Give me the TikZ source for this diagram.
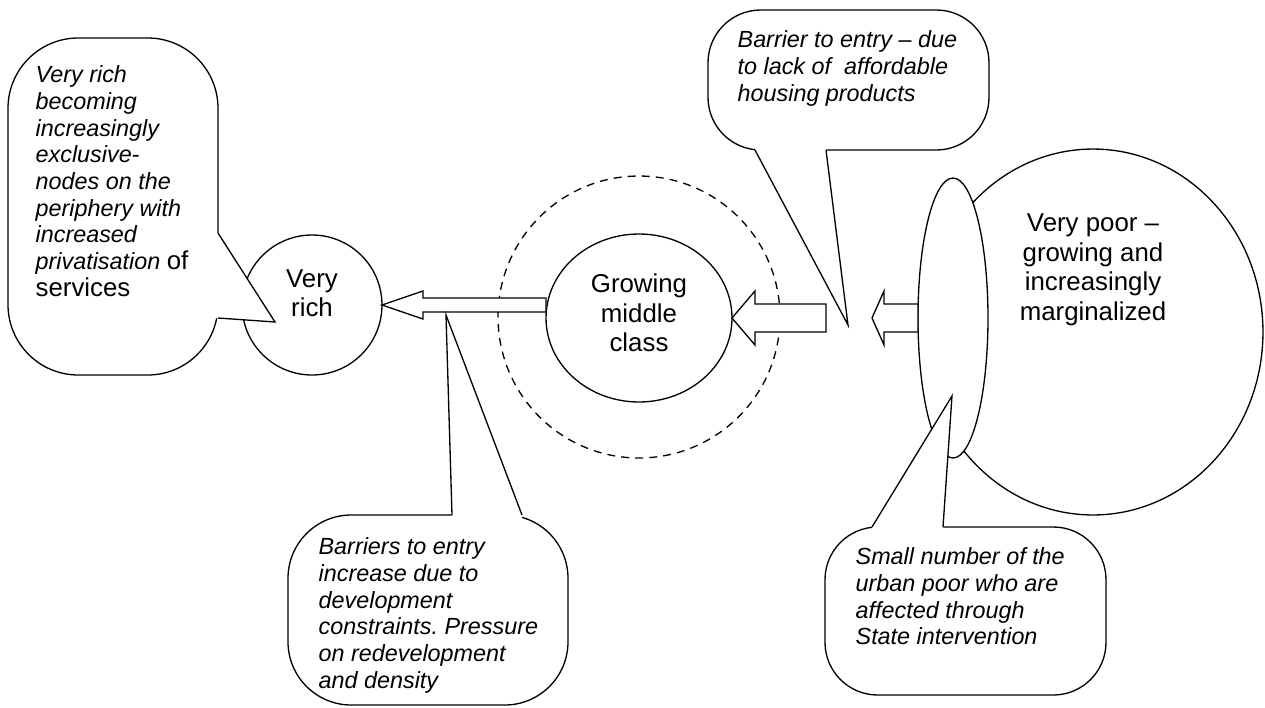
\documentclass[tikz,border=0pt]{standalone}
\usepackage{fontspec}
\setmainfont{Liberation Sans}
\usepackage{tikz}
\usetikzlibrary{calc,shapes.geometric}
\frenchspacing

\begin{document}
\begin{tikzpicture}[x=0.02cm, y=-0.02cm, line width=0.75pt,
	blob/.style={draw, fill=white, inner sep=0pt, outer sep=0pt},
	hollow/.style={draw, fill=white},
	bubble/.style={draw, fill=white},
	notetext/.style={anchor=north west, inner sep=0pt, align=left, font=\fontsize{13.3}{15.2}\selectfont\itshape},
	bodytext/.style={inner sep=0pt, align=center, font=\fontsize{14.7}{16.8}\selectfont}]
	\path[use as bounding box, fill=white] (0,0) rectangle (1265,707);

	\node[blob, ellipse, minimum width=6.8cm, minimum height=7.32cm] (poor) at (1093,332) {};
	\node[bodytext] (poortxt) at ($(poor)+(0,-62)$) {Very poor --\\growing and\\increasingly\\marginalized};
	\node[blob, ellipse, minimum width=1.4cm, minimum height=5.6cm] (slum) at (953,318) {};
	\node[draw, circle, dash pattern=on 4.5pt off 3.5pt, minimum size=5.64cm, inner sep=0pt] (ring) at (639,317) {};

	\coordinate (gap) at (826,318);
	\coordinate (hook) at (872,318);
	\node[blob, ellipse, minimum width=3.72cm, minimum height=3.36cm] (mid) at (639,318) {};
	\node[blob, circle, minimum size=2.8cm] (rich) at (312,305) {};

	\draw[hollow] (rich.east) -- ++(41,-14) -- ++(0,7) coordinate (s1) -- (s1 -| mid.west) -- ++(0,14) coordinate (s2) -- (s2 -| s1) -- ++(0,7) -- cycle;
	\draw[hollow] (mid.east) -- ++(23,-27) -- ++(0,13) coordinate (s3) -- (s3 -| gap) -- ++(0,28) coordinate (s4) -- (s4 -| s3) -- ++(0,13) -- cycle;
	\draw[hollow] (hook) -- ++(12,-27) -- ++(0,13) coordinate (s5) -- (s5 -| slum.west) -- ++(0,28) coordinate (s6) -- (s6 -| s5) -- ++(0,13) -- cycle;

	\node[bodytext] (midtxt) at ($(mid)+(0,-5)$) {Growing\\middle\\class};
	\node[bodytext] (richtxt) at ($(rich)+(0,-12)$) {Very\\rich};

	\draw[bubble, rounded corners=40] (8,38) rectangle (218,375);
	\fill[white] (214,233) -- (218,233) -- (275,322) -- (218,318) -- (214,318) -- cycle;
	\draw (218,233) -- (275,322) -- (218,318);

	\draw[bubble, rounded corners=30] (708,10) rectangle (989,150);
	\fill[white] (755,146) -- (755,150) -- (848,325) -- (826,150) -- (826,146) -- cycle;
	\draw (755,150) -- (848,325) -- (826,150);

	\draw[bubble, rounded corners=36] (288,515) rectangle (568,705);
	\fill[white] (452,519) -- (452,515) -- (446,315) -- (522,515) -- (522,519) -- cycle;
	\draw (452,515) -- (446,315) -- (522,515);

	\draw[bubble, rounded corners=30] (825,527) rectangle (1106,695);
	\fill[white] (872,531) -- (872,527) -- (952,396) -- (943,527) -- (943,531) -- cycle;
	\draw (872,527) -- (952,396) -- (943,527);

	\node[notetext] (richnote) at (35,65) {Very rich\\becoming\\increasingly\\exclusive-\\nodes on the\\periphery with\\increased\\privatisation {\upshape\fontsize{14.7}{16.8}\selectfont of}\\{\upshape\fontsize{14.7}{16.8}\selectfont services}};
	\node[notetext] (entrynote) at (737,30) {Barrier to entry -- due\\to lack of\ \ affordable\\housing products};
	\node[notetext] (densitynote) at (318,537) {Barriers to entry\\increase due to\\development\\constraints. Pressure\\on redevelopment\\and density};
	\node[notetext] (statenote) at (855,547) {Small number of the\\urban poor who are\\affected through\\State intervention};
\end{tikzpicture}
\end{document}
